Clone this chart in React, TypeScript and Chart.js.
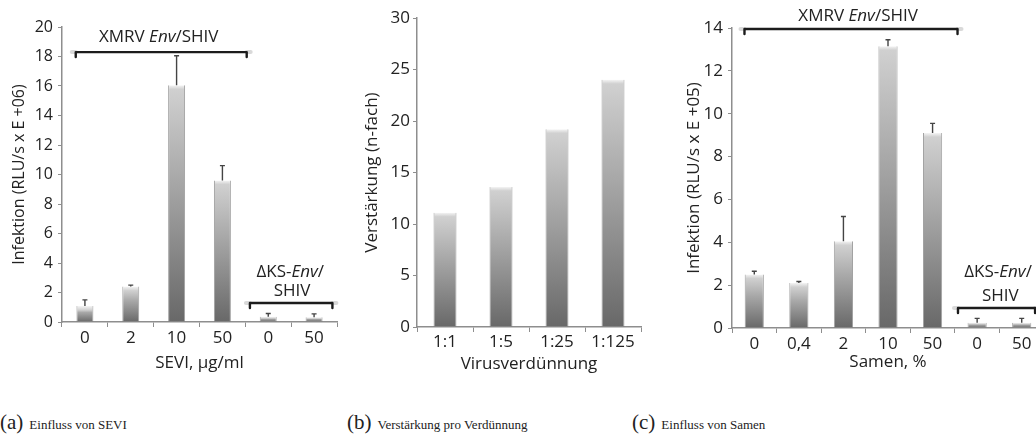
import React, { useEffect, useRef } from 'react';
import { Chart, registerables } from 'chart.js';

Chart.register(...registerables);

// ---------- data ----------
const seviLabels = ['0', '2', '10', '50', '0', '50'];
const seviValues = [1.08, 2.4, 16.05, 9.6, 0.35, 0.33];
const seviErrTop = [1.5, 2.5, 18.05, 10.6, 0.58, 0.55];

const dilutionLabels = ['1:1', '1:5', '1:25', '1:125'];
const dilutionValues = [11.1, 13.6, 19.2, 24.0];

const samenLabels = ['0', '0,4', '2', '10', '50', '0', '50'];
const samenValues = [2.5, 2.1, 4.05, 13.15, 9.1, 0.25, 0.25];
const samenErrTop = [2.65, 2.17, 5.2, 13.45, 9.55, 0.45, 0.45];

const xmrvLabel = [
  { t: 'XMRV ', i: false },
  { t: 'Env', i: true },
  { t: '/SHIV', i: false },
];
const dksLabel = [
  { t: '\u0394KS-', i: false },
  { t: 'Env', i: true },
  { t: '/', i: false },
];
const shivLabel = [{ t: 'SHIV', i: false }];

// bracket annotations (category units / value units)
const seviBrackets = [
  { from: -0.2, to: 3.53, y: 18.3 },
  { from: 3.6, to: 5.4, y: 1.29 },
];
const seviTexts = [
  { parts: xmrvLabel, x: 1.61, y: 19.29 },
  { parts: dksLabel, x: 4.48, y: 3.39 },
  { parts: shivLabel, x: 4.52, y: 2.1 },
];
const samenBrackets = [
  { from: -0.22, to: 4.56, y: 13.95 },
  { from: 4.57, to: 6.3, y: 0.93 },
];
const samenTexts = [
  { parts: xmrvLabel, x: 2.33, y: 14.54 },
  { parts: dksLabel, x: 5.47, y: 2.61 },
  { parts: shivLabel, x: 5.52, y: 1.49 },
];

const FONT = "'Open Sans', sans-serif";
const TEXT = '#222222';
const AXIS = '#8e8e8e';

function barGradient(ctx: any) {
  const chart = ctx.chart;
  if (!chart.chartArea || ctx.type !== 'data') return '#aaaaaa';
  const y = chart.scales.y;
  const top = y.getPixelForValue(ctx.raw);
  const bottom = y.getPixelForValue(0);
  if (!isFinite(top) || !isFinite(bottom) || bottom - top < 1) return '#aaaaaa';
  const g = chart.ctx.createLinearGradient(0, top, 0, bottom);
  g.addColorStop(0, '#f4f4f4');
  g.addColorStop(Math.min(0.3, 4 / (bottom - top)), '#d0d0d0');
  g.addColorStop(0.4, '#a8a8a8');
  g.addColorStop(1, '#686868');
  return g;
}

function errorPlugin(tops: number[] | null) {
  return {
    id: 'errBars',
    afterDatasetsDraw(chart: any) {
      if (!tops) return;
      const { ctx } = chart;
      const y = chart.scales.y;
      const meta = chart.getDatasetMeta(0);
      ctx.save();
      ctx.strokeStyle = '#444444';
      ctx.lineWidth = 1.4;
      meta.data.forEach((bar: any, i: number) => {
        const yt = y.getPixelForValue(tops[i]);
        ctx.beginPath();
        ctx.moveTo(bar.x, bar.y);
        ctx.lineTo(bar.x, yt);
        ctx.moveTo(bar.x - 2.5, yt);
        ctx.lineTo(bar.x + 2.5, yt);
        ctx.stroke();
      });
      ctx.restore();
    },
  };
}

function drawParts(ctx: any, parts: any[], cx: number, cy: number) {
  const fonts = parts.map((p) => `${p.i ? 'italic ' : ''}17px ${FONT}`);
  let total = 0;
  const widths = parts.map((p, k) => {
    ctx.font = fonts[k];
    const w = ctx.measureText(p.t).width;
    total += w;
    return w;
  });
  let x = cx - total / 2;
  ctx.textBaseline = 'middle';
  ctx.textAlign = 'left';
  ctx.fillStyle = TEXT;
  parts.forEach((p, k) => {
    ctx.font = fonts[k];
    ctx.fillText(p.t, x, cy);
    x += widths[k];
  });
}

function bracketPlugin(brackets: any[], texts: any[]) {
  return {
    id: 'brackets',
    afterDraw(chart: any) {
      const { ctx } = chart;
      const xs = chart.scales.x;
      const ys = chart.scales.y;
      ctx.save();
      brackets.forEach((b) => {
        const x1 = xs.getPixelForValue(b.from);
        const x2 = xs.getPixelForValue(b.to);
        const yy = ys.getPixelForValue(b.y);
        ctx.strokeStyle = 'rgba(0,0,0,0.15)';
        ctx.lineWidth = 4;
        ctx.lineCap = 'round';
        ctx.beginPath();
        ctx.moveTo(x1 - 4, yy);
        ctx.lineTo(x1, yy);
        ctx.moveTo(x2, yy);
        ctx.lineTo(x2 + 4, yy);
        ctx.stroke();
        ctx.strokeStyle = '#1c1c1c';
        ctx.lineWidth = 2.4;
        ctx.lineJoin = 'round';
        ctx.beginPath();
        ctx.moveTo(x1, yy + 5);
        ctx.lineTo(x1, yy);
        ctx.lineTo(x2, yy);
        ctx.lineTo(x2, yy + 5);
        ctx.stroke();
      });
      texts.forEach((t) => {
        drawParts(ctx, t.parts, xs.getPixelForValue(t.x), ys.getPixelForValue(t.y));
      });
      ctx.restore();
    },
  };
}

type PanelSpec = {
  left: number;
  width: number;
  height: number;
  labels: string[];
  values: number[];
  errTop: number[] | null;
  brackets: any[];
  texts: any[];
  yMax: number;
  yStep: number;
  yTitle: string;
  xTitle: string;
  padLeft: number;
  padTop: number;
  padRight: number;
  yWidth: number;
  xHeight: number;
  yTickSize: number;
  yTitleSize: number;
  yTickPad: number;
  xTickPad: number;
  barPct: number;
};

function makeConfig(s: PanelSpec): any {
  return {
    type: 'bar',
    data: {
      labels: s.labels,
      datasets: [
        {
          data: s.values,
          backgroundColor: barGradient,
          borderColor: 'rgba(85,85,85,0.55)',
          borderWidth: { left: 1, right: 1, top: 0, bottom: 0 },
          borderSkipped: 'start',
          barPercentage: s.barPct,
          categoryPercentage: 1,
        },
      ],
    },
    options: {
      responsive: false,
      animation: false,
      devicePixelRatio: 1,
      layout: { padding: { left: s.padLeft, top: s.padTop, right: s.padRight, bottom: 0 } },
      plugins: { legend: { display: false }, tooltip: { enabled: false } },
      scales: {
        x: {
          offset: true,
          grid: { display: true, drawOnChartArea: false, offset: true, tickLength: 5, color: AXIS, lineWidth: 1 },
          border: { display: true, color: AXIS, width: 1.5 },
          ticks: { padding: s.xTickPad, font: { family: FONT, size: 17 }, color: TEXT, maxRotation: 0, autoSkip: false },
          title: { display: true, text: s.xTitle, color: TEXT, font: { family: FONT, size: 17 }, padding: { top: 0, bottom: 0 } },
          afterFit: (sc: any) => {
            sc.height = s.xHeight;
          },
        },
        y: {
          min: 0,
          max: s.yMax,
          grid: { display: true, drawOnChartArea: false, tickLength: 4, color: AXIS, lineWidth: 1 },
          border: { display: true, color: AXIS, width: 1.5 },
          ticks: { stepSize: s.yStep, padding: s.yTickPad, font: { family: FONT, size: s.yTickSize }, color: TEXT },
          title: { display: true, text: s.yTitle, color: TEXT, font: { family: FONT, size: s.yTitleSize }, padding: { top: 0, bottom: 0 } },
          afterFit: (sc: any) => {
            sc.width = s.yWidth;
          },
        },
      },
    },
    plugins: [errorPlugin(s.errTop), bracketPlugin(s.brackets, s.texts)],
  };
}

function Panel({ spec }: { spec: PanelSpec }) {
  const ref = useRef<HTMLCanvasElement | null>(null);
  useEffect(() => {
    const chart = new Chart(ref.current as HTMLCanvasElement, makeConfig(spec));
    return () => chart.destroy();
  }, []);
  return (
    <div style={{ position: 'absolute', left: spec.left, top: 0, width: spec.width, height: spec.height }}>
      <canvas ref={ref} width={spec.width} height={spec.height} style={{ display: 'block', width: spec.width, height: spec.height }} />
    </div>
  );
}

const panelA: PanelSpec = {
  left: 0, width: 345, height: 373,
  labels: seviLabels, values: seviValues, errTop: seviErrTop,
  brackets: seviBrackets, texts: seviTexts,
  yMax: 20, yStep: 2,
  yTitle: 'Infektion (RLU/s x E +06)', xTitle: 'SEVI, \u00b5g/ml',
  padLeft: 10, padTop: 27, padRight: 8, yWidth: 52, xHeight: 51,
  yTickSize: 16, yTitleSize: 16, yTickPad: 5, xTickPad: 1, barPct: 0.37,
};

const panelB: PanelSpec = {
  left: 345, width: 300, height: 374,
  labels: dilutionLabels, values: dilutionValues, errTop: null,
  brackets: [], texts: [],
  yMax: 30, yStep: 5,
  yTitle: 'Verst\u00e4rkung (n-fach)', xTitle: 'Virusverd\u00fcnnung',
  padLeft: 17, padTop: 18, padRight: 4, yWidth: 55, xHeight: 47,
  yTickSize: 17, yTitleSize: 17, yTickPad: 3, xTickPad: 0, barPct: 0.41,
};

const panelC: PanelSpec = {
  left: 640, width: 406, height: 372,
  labels: samenLabels, values: samenValues, errTop: samenErrTop,
  brackets: samenBrackets, texts: samenTexts,
  yMax: 14, yStep: 2,
  yTitle: 'Infektion (RLU/s x E +05)', xTitle: 'Samen, %',
  padLeft: 44, padTop: 28, padRight: 2, yWidth: 48, xHeight: 44,
  yTickSize: 17, yTitleSize: 17, yTickPad: 5, xTickPad: 1, barPct: 0.43,
};

const captionStyle: React.CSSProperties = {
  position: 'absolute',
  top: 410,
  fontFamily: "'Liberation Serif', serif",
  color: '#222',
  whiteSpace: 'nowrap',
};

function Caption({ left, tag, text }: { left: number; tag: string; text: string }) {
  return (
    <div style={{ ...captionStyle, left }}>
      <span style={{ fontSize: 21 }}>({tag})</span>
      <span style={{ fontSize: 13, marginLeft: 6 }}>{text}</span>
    </div>
  );
}

export default function App() {
  return (
    <div style={{ position: 'fixed', left: 0, top: 0, width: 1036, height: 439, overflow: 'hidden', background: '#fff' }}>
      <Panel spec={panelA} />
      <Panel spec={panelB} />
      <Panel spec={panelC} />
      <Caption left={0} tag="a" text="Einfluss von SEVI" />
      <Caption left={347} tag="b" text="Verstärkung pro Verdünnung" />
      <Caption left={632} tag="c" text="Einfluss von Samen" />
    </div>
  );
}
